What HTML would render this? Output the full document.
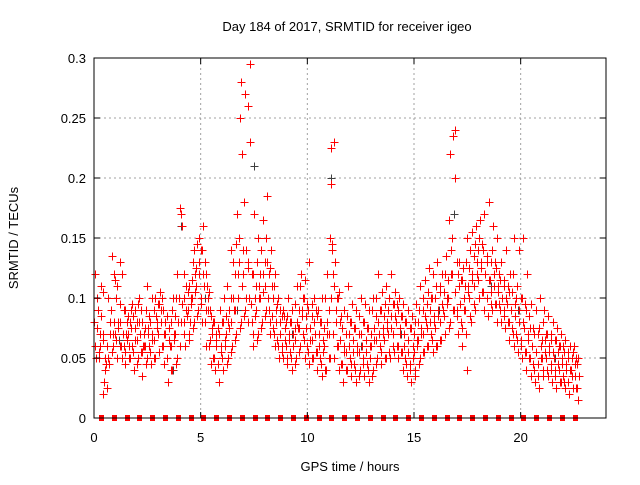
<!DOCTYPE html>
<html><head><meta charset="utf-8"><style>
body{margin:0;background:#fff}
svg text{font-family:"Liberation Sans",sans-serif;font-size:13px;fill:#000}
</style></head><body>
<svg id="chart" width="640" height="480" xmlns="http://www.w3.org/2000/svg">
<rect width="640" height="480" fill="#fff"/>
<g id="grid"></g>
<g id="pts"></g>
<g id="axes"></g>
<text x="347" y="31" text-anchor="middle">Day 184 of 2017, SRMTID for receiver igeo</text>
<text x="350" y="471" text-anchor="middle">GPS time / hours</text>
<text transform="translate(18,238) rotate(-90)" text-anchor="middle">SRMTID / TECUs</text>
</svg>
<script>
const xTicks=[0,5,10,15,20];
const yTicks=[0,0.05,0.1,0.15,0.2,0.25,0.3];
const yTickLabels=["0","0.05","0.1","0.15","0.2","0.25","0.3"];
const times=[0,0.2,0.4,0.6,0.8,1.0,1.2,1.4,1.6,1.8,2.0,2.2,2.4,2.6,2.8,3.0,3.2,3.4,3.6,3.8,4.0,4.2,4.4,4.6,4.8,5.0,5.2,5.4,5.6,5.8,6.0,6.2,6.4,6.6,6.8,7.0,7.2,7.4,7.6,7.8,8.0,8.2,8.4,8.6,8.8,9.0,9.2,9.4,9.6,9.8,10.0,10.2,10.4,10.6,10.8,11.0,11.1,11.2,11.4,11.6,11.8,12.0,12.2,12.4,12.6,12.8,13.0,13.2,13.4,13.6,13.8,14.0,14.2,14.4,14.6,14.8,15.0,15.2,15.4,15.6,15.8,16.0,16.2,16.4,16.6,16.8,17.0,17.2,17.4,17.6,17.8,18.0,18.2,18.4,18.6,18.8,19.0,19.2,19.4,19.6,19.8,20.0,20.2,20.4,20.6,20.8,21.0,21.2,21.4,21.6,21.8,22.0,22.2,22.4,22.6];
const values=[
[.06,.08,.10,.12,.05],[.07,.09,.11,.05,.06],[.03,.02,.05,.07,.04],[.05,.06,.08,.10,.045],[.06,.09,.12,.135,.07],
[.05,.07,.08,.10,.11],[.06,.08,.12,.13,.05],[.045,.06,.08,.09,.07],[.05,.07,.09,.06,.08],[.04,.06,.075,.085,.09],
[.05,.065,.08,.095,.10],[.035,.055,.07,.08,.06],[.05,.06,.075,.09,.11],[.045,.06,.07,.08,.1],[.05,.065,.08,.10,.085],
[.055,.07,.09,.095,.105],[.045,.06,.08,.09,.07],[.03,.05,.065,.085,.075],[.04,.06,.07,.09,.1],[.05,.07,.08,.10,.12],
[.08,.10,.16,.175,.17],[.06,.08,.09,.10,.11],[.07,.09,.10,.11,.08],[.08,.10,.12,.13,.14],[.09,.11,.13,.145,.15],
[.08,.10,.12,.14,.16],[.06,.08,.10,.12,.11],[.045,.06,.075,.09,.085],[.04,.05,.065,.08,.07],[.03,.045,.055,.07,.09],
[.04,.05,.06,.08,.1],[.05,.07,.09,.11,.08],[.06,.08,.10,.14,.13],[.07,.09,.12,.145,.17],[.08,.15,.22,.25,.28],
[.09,.12,.14,.18,.27],[.10,.13,.23,.26,.295],[.06,.08,.10,.12,.17],[.07,.09,.11,.13,.15],[.08,.10,.12,.14,.165],
[.09,.11,.13,.15,.185],[.07,.09,.11,.125,.14],[.06,.075,.09,.11,.12],[.05,.065,.08,.10,.09],[.05,.06,.075,.09,.085],
[.045,.06,.07,.085,.1],[.04,.055,.07,.08,.09],[.05,.065,.08,.095,.11],[.06,.075,.09,.11,.12],[.05,.07,.085,.10,.115],
[.045,.06,.075,.09,.13],[.05,.065,.08,.095,.10],[.04,.055,.07,.085,.09],[.035,.05,.065,.08,.10],[.04,.06,.08,.10,.12],
[.05,.07,.10,.15,.195],[.14,.225,.23,.145,.12],[.05,.07,.09,.11,.13],[.04,.06,.08,.1,.105],[.03,.045,.06,.075,.09],
[.04,.055,.07,.085,.11],[.035,.05,.065,.08,.095],[.03,.045,.06,.075,.09],[.04,.055,.07,.085,.1],[.035,.05,.065,.08,.095],
[.03,.045,.06,.075,.09],[.04,.06,.075,.09,.1],[.05,.065,.08,.1,.12],[.045,.06,.075,.09,.105],[.05,.065,.08,.095,.11],
[.05,.07,.085,.1,.12],[.055,.07,.085,.095,.105],[.05,.06,.075,.09,.1],[.04,.055,.07,.085,.095],[.035,.05,.065,.08,.09],
[.03,.045,.06,.075,.085],[.04,.055,.065,.08,.095],[.05,.065,.075,.09,.11],[.055,.07,.085,.1,.115],[.06,.075,.09,.105,.125],
[.055,.07,.085,.1,.12],[.06,.075,.09,.11,.13],[.065,.08,.095,.11,.12],[.07,.085,.1,.12,.135],[.08,.1,.14,.165,.22],
[.09,.12,.2,.235,.24],[.07,.09,.11,.12,.13],[.06,.08,.1,.115,.125],[.04,.09,.11,.13,.15],[.08,.1,.12,.14,.155],
[.09,.11,.13,.145,.16],[.10,.115,.13,.15,.165],[.09,.105,.12,.14,.17],[.085,.1,.115,.13,.18],[.09,.105,.12,.14,.16],
[.08,.095,.11,.125,.15],[.08,.095,.1,.115,.13],[.075,.09,.1,.11,.14],[.065,.08,.09,.105,.12],[.06,.075,.095,.12,.15],
[.055,.07,.09,.11,.14],[.05,.065,.08,.1,.15],[.04,.055,.07,.09,.12],[.035,.05,.06,.075,.095],[.03,.045,.055,.07,.09],
[.025,.045,.06,.075,.10],[.04,.05,.065,.08,.09],[.035,.05,.06,.07,.085],[.03,.045,.055,.065,.08],[.025,.04,.055,.065,.075],
[.03,.04,.05,.06,.07],[.025,.035,.045,.055,.065],[.02,.03,.04,.05,.06],[.025,.035,.045,.055,.06],[.015,.025,.035,.045,.05]];
const times2=[0.1,0.3,0.5,0.7,0.9,1.1,1.3,1.5,1.7,1.9,2.1,2.3,2.5,2.7,2.9,3.1,3.3,3.5,3.7,3.9,4.1,4.3,4.5,4.7,4.9,5.1,5.3,5.5,5.7,5.9,6.1,6.3,6.5,6.7,6.9,7.1,7.3,7.5,7.7,7.9,8.1,8.3,8.5,8.7,8.9,9.1,9.3,9.5,9.7,9.9,10.1,10.3,10.5,10.7,10.9,11.3,11.5,11.7,11.9,12.1,12.3,12.5,12.7,12.9,13.1,13.3,13.5,13.7,13.9,14.1,14.3,14.5,14.7,14.9,15.1,15.3,15.5,15.7,15.9,16.1,16.3,16.5,16.7,16.9,17.1,17.3,17.5,17.7,17.9,18.1,18.3,18.5,18.7,18.9,19.1,19.3,19.5,19.7,19.9,20.1,20.3,20.5,20.7,20.9,21.1,21.3,21.5,21.7,21.9,22.1,22.3,22.5];
const values2=[
[.055,.075,.09],[.065,.085,.105],[.025,.045,.06],[.055,.07,.09],[.065,.08,.115],[.06,.075,.095],[.055,.07,.09],[.05,.065,.085],[.055,.075,.095],[.045,.065,.08],
[.055,.07,.09],[.045,.06,.075],[.055,.07,.085],[.05,.065,.09],[.055,.075,.095],[.06,.08,.1],[.05,.07,.085],[.04,.06,.08],[.045,.065,.085],[.06,.08,.1],
[.07,.095,.12],[.065,.085,.105],[.075,.095,.115],[.085,.105,.125],[.095,.12,.14],[.09,.11,.13],[.065,.09,.105],[.05,.07,.08],[.045,.06,.075],[.04,.06,.08],
[.045,.065,.085],[.055,.075,.1],[.065,.09,.12],[.075,.1,.13],[.085,.11,.14],[.08,.1,.125],[.07,.095,.12],[.065,.085,.11],[.075,.1,.12],[.085,.105,.13],
[.08,.1,.12],[.07,.085,.1],[.06,.08,.095],[.055,.07,.085],[.05,.065,.08],[.05,.065,.08],[.045,.06,.075],[.055,.075,.09],[.065,.085,.1],[.055,.075,.095],
[.05,.065,.085],[.055,.07,.09],[.045,.06,.08],[.04,.055,.075],[.05,.07,.09],[.06,.08,.1],[.045,.065,.085],[.04,.055,.07],[.045,.06,.08],[.04,.055,.075],
[.035,.055,.07],[.045,.06,.08],[.04,.055,.075],[.035,.05,.07],[.045,.065,.085],[.055,.07,.09],[.05,.07,.085],[.055,.075,.09],[.06,.075,.095],[.06,.08,.095],
[.055,.07,.085],[.045,.06,.08],[.04,.055,.075],[.035,.05,.07],[.045,.06,.08],[.055,.07,.09],[.06,.08,.095],[.065,.08,.1],[.06,.08,.1],[.065,.085,.105],
[.07,.09,.105],[.075,.095,.115],[.09,.12,.15],[.085,.105,.13],[.075,.095,.115],[.07,.09,.11],[.085,.105,.125],[.095,.115,.135],[.1,.12,.14],[.105,.125,.145],
[.1,.12,.135],[.095,.115,.13],[.095,.11,.13],[.09,.105,.12],[.085,.1,.115],[.08,.095,.11],[.07,.09,.105],[.065,.085,.1],[.06,.08,.1],[.055,.075,.095],
[.05,.065,.085],[.04,.06,.075],[.035,.055,.07],[.035,.05,.065],[.04,.055,.07],[.04,.055,.07],[.035,.05,.065],[.03,.045,.06],[.03,.045,.06],[.03,.04,.055],
[.025,.04,.05],[.025,.035,.05]];
const grayTimes=[1.1,3.6,4.0,5.1,6.6,7.4,8.1,9.2,11.0,12.4,14.3,16.1,16.8,18.5,19.8,21.5];
const grayValues=[0.065,0.04,0.16,0.1,0.09,0.21,0.12,0.07,0.2,0.06,0.07,0.09,0.17,0.11,0.09,0.05];
const zeroTimes=[0.33,0.93,1.53,2.13,2.73,3.33,3.93,4.53,5.13,5.73,6.33,6.93,7.53,8.13,8.73,9.33,9.93,10.53,11.13,11.73,12.33,12.93,13.53,14.13,14.73,15.33,15.93,16.53,17.13,17.73,18.33,18.93,19.53,20.13,20.73,21.33,21.93,22.53];

const L=94,R=606,T=58,B=418,X0=0,X1=24,Y0=0,Y1=0.3;
const sx=v=>L+(v-X0)/(X1-X0)*(R-L);
const sy=v=>B-(v-Y0)/(Y1-Y0)*(B-T);
const NS="http://www.w3.org/2000/svg";
function mk(tag,attrs,parent){const e=document.createElementNS(NS,tag);for(const k in attrs)e.setAttribute(k,attrs[k]);parent.appendChild(e);return e;}
const grid=document.getElementById('grid'),axes=document.getElementById('axes'),pts=document.getElementById('pts');
yTicks.forEach((v,i)=>{
  const y=sy(v);
  if(i>0&&v<Y1){const g=mk('line',{x1:L,x2:R,y1:y,y2:y,stroke:'#a0a0a0','stroke-dasharray':'2,3'},grid);
  
  }
  mk('line',{x1:L,x2:L+6,y1:y,y2:y,stroke:'#000'},axes);
  mk('line',{x1:R,x2:R-6,y1:y,y2:y,stroke:'#000'},axes);
  const t=mk('text',{x:L-8,y:y+5,'text-anchor':'end'},axes);t.textContent=yTickLabels[i];
  
  
});
xTicks.forEach(v=>{
  const x=sx(v);
  if(v>0){const g=mk('line',{x1:x,x2:x,y1:T,y2:B,stroke:'#a0a0a0','stroke-dasharray':'2,3'},grid);
  
  }
  mk('line',{x1:x,x2:x,y1:B,y2:B-6,stroke:'#000'},axes);
  mk('line',{x1:x,x2:x,y1:T,y2:T+6,stroke:'#000'},axes);
  const t=mk('text',{x:x,y:B+24,'text-anchor':'middle'},axes);t.textContent=String(v);
  
  
});
const frame=mk('rect',{x:L,y:T,width:R-L,height:B-T,fill:'none',stroke:'#000'},axes);


function plus(x,y){x=Math.round(x)+0.5;y=Math.round(y)+0.5;return `M${x-4},${y}h8M${x},${y-4}v8`;}
const jit=[0.07,0.0,0.13,0.04,0.1];
let gd='';grayTimes.forEach((t,i)=>{gd+=plus(sx(t)+2,sy(grayValues[i]));});
const gp=mk('path',{d:gd,stroke:'#404040','stroke-width':1,fill:'none'},pts);


let rd='';
times.forEach((t,i)=>{values[i].forEach((v,j)=>{rd+=plus(sx(t+jit[j]),sy(v));});});
times2.forEach((t,i)=>{values2[i].forEach((v,j)=>{rd+=plus(sx(t+jit[(j+2)%5]),sy(v));});});
const rp=mk('path',{d:rd,stroke:'#ff0000','stroke-width':1,fill:'none'},pts);


zeroTimes.forEach(t=>{
  const r=mk('rect',{x:Math.round(sx(t))-2,y:sy(0)-3,width:5,height:6,fill:'#ff0000'},pts);
  
  
});
</script>
</body></html>
